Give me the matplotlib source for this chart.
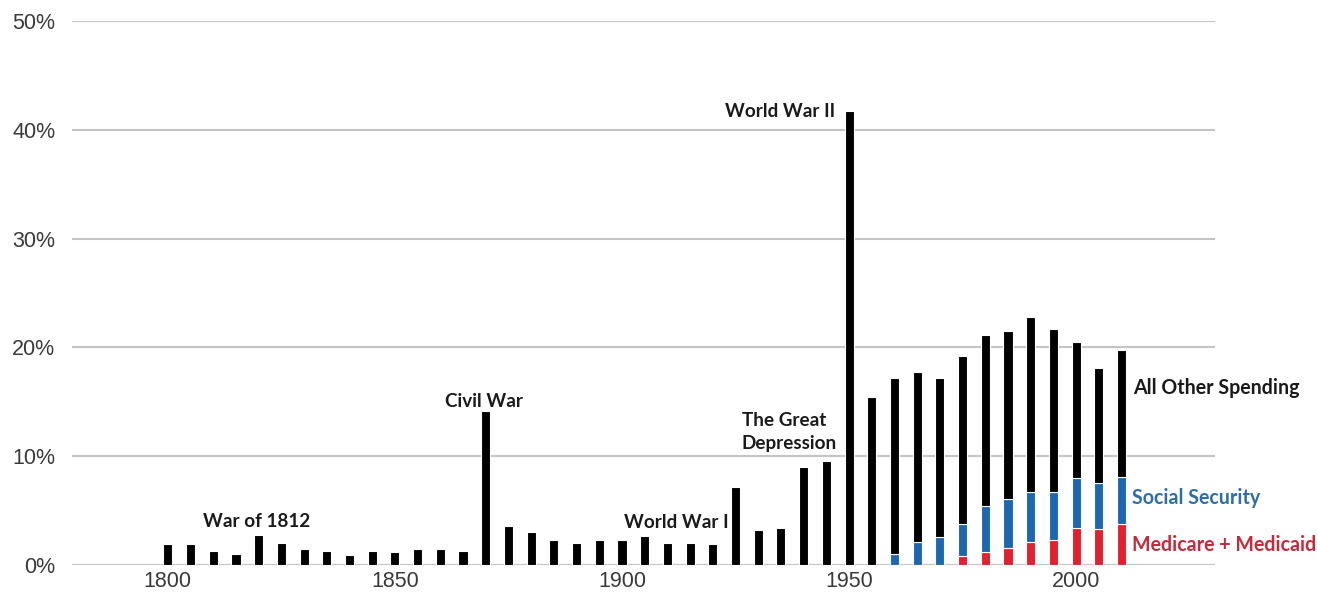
import numpy as np
import matplotlib
matplotlib.use("Agg")
import matplotlib.pyplot as plt

# Federal spending as a share of GDP, sampled every 5 years
years = list(range(1800, 2015, 5))

medicare_medicaid = [0.0] * 35 + [0.8, 1.2, 1.6, 2.1, 2.3, 3.4, 3.3, 3.8]
social_security = [0.0] * 32 + [1.0, 2.1, 2.6, 3.0, 4.2, 4.5, 4.6, 4.4, 4.6, 4.2, 4.3]
all_other = [
    1.9, 1.9, 1.3, 1.0, 2.8, 2.05, 1.5, 1.3, 0.95, 1.3,      # 1800-1845
    1.15, 1.5, 1.5, 1.3, 14.2, 3.6, 3.0, 2.3, 2.05, 2.3,     # 1850-1895
    2.3, 2.7, 2.05, 2.05, 1.9, 7.15, 3.2, 3.4, 9.0, 9.6,     # 1900-1945
    41.7, 15.4, 16.2, 15.6, 14.6, 15.4, 15.7, 15.4, 16.1,    # 1950-1990
    15.0, 12.5, 10.6, 11.7,                                  # 1995-2010
]

y_ticks = [0, 10, 20, 30, 40, 50]
x_ticks = [1800, 1850, 1900, 1950, 2000]

events = [
    ("War of 1812", 1819.6, 4.0, "center"),
    ("Civil War", 1869.6, 15.0, "center"),
    ("World War I", 1911.9, 3.95, "center"),
    ("The Great\nDepression", 1926.4, 12.2, "left"),
    ("World War II", 1934.8, 41.65, "center"),
]

BLACK = "#000000"
BLUE = "#1c67b1"
RED = "#e3202e"

fig = plt.figure(figsize=(13.17, 5.93), dpi=100)
ax = fig.add_axes([0.0547, 0.0472, 0.8679, 0.9174])

x = np.array(years, dtype=float)
med = np.array(medicare_medicaid)
ss = np.array(social_security)
oth = np.array(all_other)

bw = 2.0
kw = dict(width=bw, edgecolor="white", linewidth=0.8, zorder=3)
ax.bar(x, med, color=RED, **kw)
ax.bar(x, ss, bottom=med, color=BLUE, **kw)
ax.bar(x, oth, bottom=med + ss, color=BLACK, **kw)

ax.set_xlim(1778.9, 2030.6)
ax.set_ylim(0, 50)
ax.set_yticks(y_ticks)
ax.set_yticklabels([f"{v}%" for v in y_ticks])
ax.set_xticks(x_ticks)
ax.set_xticklabels([str(v) for v in x_ticks])

for v in y_ticks:
    ax.axhline(v, color="#c4c4c4", linewidth=1.5, zorder=1)

for s in ax.spines.values():
    s.set_visible(False)
ax.tick_params(axis="both", length=0, labelsize=15.5, colors="#3a3a3a",
               labelfontfamily="Liberation Sans")
ax.tick_params(axis="y", pad=12)
ax.tick_params(axis="x", pad=4)

lab_font = dict(family="Lato", fontweight="bold", fontsize=14.1)
for text, xx, yy, ha in events:
    ax.text(xx, yy, text, ha=ha, va="center", color="#1a1a1a",
            linespacing=1.45, zorder=4,
            **{**lab_font, "fontsize": 13.6})

ax.text(2012.6, 16.3, "All Other Spending", ha="left", va="center",
        color="#1a1a1a", **lab_font)
ax.text(2012.3, 6.2, "Social Security", ha="left", va="center",
        color="#2d6ea8", **lab_font)
ax.text(2012.3, 1.8, "Medicare + Medicaid", ha="left", va="center",
        color="#c9283a", **lab_font)

fig.savefig("out.png", dpi=100, facecolor="white")
